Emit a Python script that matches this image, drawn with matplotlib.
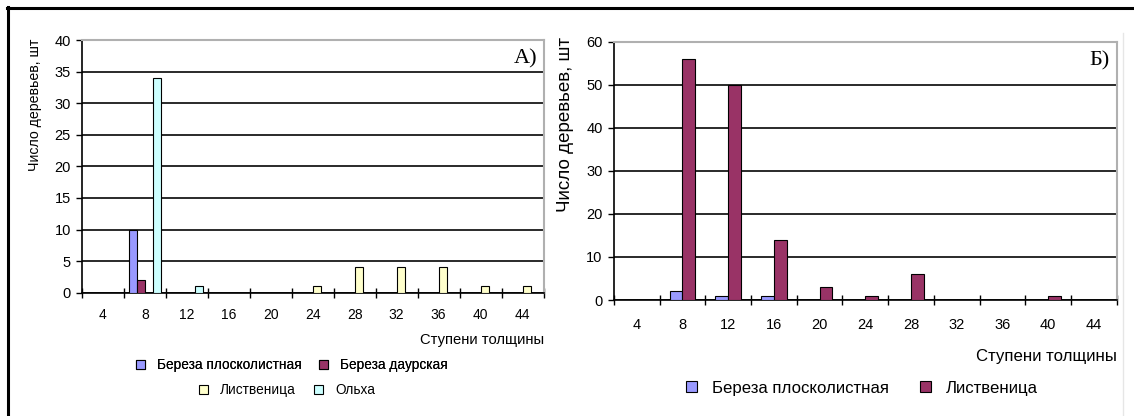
import matplotlib
matplotlib.use("Agg")
import matplotlib.pyplot as plt
import numpy as np
from matplotlib.patches import Patch
from matplotlib.lines import Line2D

plt.rcParams['font.family'] = ['Liberation Sans', 'DejaVu Sans']

# Ступени толщины (общие для обеих диаграмм)
steps = ["4", "8", "12", "16", "20", "24", "28", "32", "36", "40", "44"]

# Диаграмма А
a_names = ["Береза плосколистная", "Береза даурская", "Лиственица", "Ольха"]
a_birch_flat = [0, 10, 0, 0, 0, 0, 0, 0, 0, 0, 0]
a_birch_daur = [0, 2, 0, 0, 0, 0, 0, 0, 0, 0, 0]
a_larch = [0, 0, 0, 0, 0, 1, 4, 4, 4, 1, 1]
a_alder = [0, 34, 1, 0, 0, 0, 0, 0, 0, 0, 0]

# Диаграмма Б
b_names = ["Береза плосколистная", "Лиственица"]
b_birch_flat = [0, 2, 1, 1, 0, 0, 0, 0, 0, 0, 0]
b_larch = [0, 56, 50, 14, 3, 1, 6, 0, 0, 1, 0]

BLUE = "#9999ff"
MAROON = "#993366"
YELLOW = "#ffffcc"
CYAN = "#ccffff"

W, H = 1134, 416


def px_box(left, top, right, bottom):
    return [left / W, 1 - bottom / H, (right - left) / W, (bottom - top) / H]


def style_axes(ax, ymax, ystep, ytick_size, xtick_size, pad):
    n = len(steps)
    ax.set_xlim(-0.5, n - 0.5)
    ax.set_ylim(0, ymax)
    ax.set_yticks(np.arange(0, ymax + 1, ystep))
    ax.yaxis.grid(True, color="#2a2a2a", linewidth=1.4)
    ax.set_axisbelow(True)
    ax.tick_params(axis="y", direction="out", length=4, width=1, labelsize=ytick_size, pad=4)
    # ticks on category boundaries, labels on centers
    ax.set_xticks(np.arange(-0.5, n, 1.0))
    ax.set_xticklabels([])
    ax.tick_params(axis="x", which="major", direction="inout", length=7, width=1)
    ax.set_xticks(np.arange(n), minor=True)
    ax.set_xticklabels(steps, minor=True, fontsize=xtick_size)
    ax.tick_params(axis="x", which="minor", length=0, pad=pad)
    for side in ("top", "right"):
        ax.spines[side].set_color("#b0b0b0")
        ax.spines[side].set_linewidth(1.5)
    for side in ("left", "bottom"):
        ax.spines[side].set_color("black")
        ax.spines[side].set_linewidth(1.2)


fig = plt.figure(figsize=(W / 100, H / 100), dpi=100)

# рамка рисунка: верх и левый край
fig.add_artist(Line2D([7 / W, 1], [1 - 7.5 / H] * 2, color="black", linewidth=2.2))
fig.add_artist(Line2D([7.5 / W] * 2, [0, 1 - 7 / H], color="black", linewidth=2.2))
# светлая граница области диаграммы Б
fig.add_artist(Line2D([1123 / W] * 2, [0, 1 - 33 / H], color="#e6e6e6", linewidth=1))

x = np.arange(len(steps))

# --- А ---
axA = fig.add_axes(px_box(82, 40, 543.5, 292.7))
w = 0.195
a_series = [a_birch_flat, a_birch_daur, a_larch, a_alder]
a_colors = [BLUE, MAROON, YELLOW, CYAN]
for i, (vals, col) in enumerate(zip(a_series, a_colors)):
    axA.bar(x - 1.5 * w + i * w, vals, w, color=col, edgecolor="black", linewidth=0.8, zorder=3)
style_axes(axA, 40, 5, 10.5, 10, 11)
fig.text(35 / W, 1 - 39 / H, "Число деревьев, шт", rotation=90, ha="center", va="top", fontsize=10.2)
axA.text(0.987, 0.965, "А)", transform=axA.transAxes, ha="right", va="top",
         fontsize=16, family="Liberation Serif")
fig.text(544 / W, 1 - 340 / H, "Ступени толщины", ha="right", va="center", fontsize=10.6)

h = [Patch(facecolor=c, edgecolor="black", linewidth=0.8) for c in a_colors]
leg_kw = dict(frameon=False, fontsize=9.8, handlelength=0.65, handleheight=0.65,
              columnspacing=1.3, handletextpad=0.9, borderpad=0, borderaxespad=0)
legA1 = fig.legend(h[:2], a_names[:2], ncol=2, loc="center",
                   bbox_to_anchor=(292 / W, 1 - 365 / H), **leg_kw)
fig.legend(h[2:], a_names[2:], ncol=2, loc="center",
           bbox_to_anchor=(287 / W, 1 - 390 / H), **leg_kw)
fig.add_artist(legA1)

# --- Б ---
axB = fig.add_axes(px_box(613.8, 41.7, 1116.8, 300))
wb = 0.28
for i, (vals, col) in enumerate(zip([b_birch_flat, b_larch], [BLUE, MAROON])):
    axB.bar(x - wb + i * wb + wb / 2, vals, wb, color=col, edgecolor="black", linewidth=0.8, zorder=3)
style_axes(axB, 60, 10, 10.5, 10.5, 13)
fig.text(565 / W, 1 - 37 / H, "Число деревьев, шт", rotation=90, ha="center", va="top", fontsize=13.5)
axB.text(0.985, 0.965, "Б)", transform=axB.transAxes, ha="right", va="top",
         fontsize=16, family="Liberation Serif")
fig.text(1117 / W, 1 - 356 / H, "Ступени толщины", ha="right", va="center", fontsize=12.1)

hb = [Patch(facecolor=c, edgecolor="black", linewidth=0.8) for c in (BLUE, MAROON)]
fig.legend(hb, b_names, ncol=2, loc="center", bbox_to_anchor=(862 / W, 1 - 388 / H),
           frameon=False, fontsize=12.1, handlelength=0.65, handleheight=0.65, columnspacing=1.8,
           handletextpad=0.9, borderpad=0, borderaxespad=0)

fig.savefig("out.png", dpi=100)
